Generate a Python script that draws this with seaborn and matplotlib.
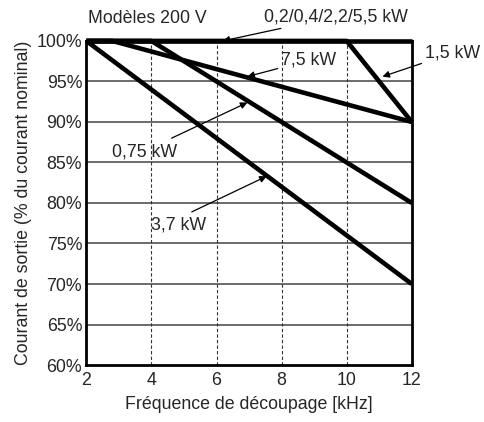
import matplotlib
matplotlib.use("Agg")
import matplotlib.pyplot as plt
import seaborn as sns
import pandas as pd
from matplotlib.ticker import MultipleLocator, FuncFormatter

# derating curves: (frequency kHz, output current %)
series_names = ["0,2/0,4/2,2/5,5 kW", "1,5 kW", "7,5 kW", "0,75 kW", "3,7 kW"]
freq_0_2 = [2, 12]
curr_0_2 = [100, 100]
freq_1_5 = [2, 10, 12]
curr_1_5 = [100, 100, 90]
freq_7_5 = [2, 2.8, 12]
curr_7_5 = [100, 100, 90]
freq_0_75 = [2, 4, 12]
curr_0_75 = [100, 100, 80]
freq_3_7 = [2, 12]
curr_3_7 = [100, 70]

x_ticks = [2, 4, 6, 8, 10, 12]
y_ticks = [60, 65, 70, 75, 80, 85, 90, 95, 100]

frames = []
for name, fx, cy in zip(series_names,
                        [freq_0_2, freq_1_5, freq_7_5, freq_0_75, freq_3_7],
                        [curr_0_2, curr_1_5, curr_7_5, curr_0_75, curr_3_7]):
    frames.append(pd.DataFrame({"freq": fx, "current": cy, "model": name}))
df = pd.concat(frames, ignore_index=True)

sns.set_style("white")
plt.rcParams["font.family"] = ["Liberation Sans", "DejaVu Sans"]
FS = 12.8

fig = plt.figure(figsize=(4.85, 4.22), dpi=100)
ax = fig.add_axes([0.178, 0.135, 0.671, 0.768])

# grid: solid horizontal, dashed vertical
for yv in y_ticks[1:-1]:
    ax.axhline(yv, color="#444444", lw=1.1, zorder=1)
for xv in x_ticks[1:-1]:
    ax.axvline(xv, color="#333333", lw=0.8, ls=(0, (3, 2)), zorder=1)

sns.lineplot(data=df, x="freq", y="current", hue="model", units="model",
             estimator=None, sort=False, palette=["black"] * len(series_names),
             lw=3.3, legend=False, ax=ax, zorder=3, clip_on=False)
for line in ax.lines:
    line.set_solid_capstyle("butt")

ax.set_xlim(2, 12)
ax.set_ylim(60, 100)
ax.set_xticks(x_ticks)
ax.xaxis.set_minor_locator(MultipleLocator(1))
ax.set_yticks(y_ticks)
ax.yaxis.set_major_formatter(FuncFormatter(lambda v, p: f"{v:.0f}%"))
ax.tick_params(axis="x", which="both", direction="in", length=7, width=1.2,
               color="black", labelsize=FS, pad=5)
ax.tick_params(axis="y", length=0, labelsize=FS, pad=3)

for s in ax.spines.values():
    s.set_color("black")
    s.set_linewidth(2)
    s.set_zorder(4)

ax.set_xlabel("Fréquence de découpage [kHz]", fontsize=FS, labelpad=5)
ax.set_ylabel("Courant de sortie (% du courant nominal)", fontsize=FS, labelpad=3)

arrow = dict(arrowstyle="-|>", color="black", lw=0.9, mutation_scale=10,
             shrinkA=0, shrinkB=0)

ax.text(2.05, 102.8, "Modèles 200 V", fontsize=FS, va="center", ha="left")
ax.annotate("0,2/0,4/2,2/5,5 kW", xy=(6.19, 100), xytext=(7.45, 103.0),
            va="center", ha="left", fontsize=FS, arrowprops=arrow,
            annotation_clip=False)
ax.annotate("7,5 kW", xy=(6.95, 95.6), xytext=(7.98, 97.6),
            va="center", ha="left", fontsize=FS, arrowprops=arrow)
ax.annotate("1,5 kW", xy=(11.1, 95.6), xytext=(12.4, 98.5),
            va="center", ha="left", fontsize=FS, arrowprops=arrow,
            annotation_clip=False)
ax.annotate("", xy=(6.95, 92.4), xytext=(4.62, 88.0), arrowprops=arrow)
ax.text(3.79, 86.3, "0,75 kW", fontsize=FS, va="center", ha="center")
ax.annotate("", xy=(7.54, 83.3), xytext=(5.24, 78.9), arrowprops=arrow)
ax.text(4.0, 77.3, "3,7 kW", fontsize=FS, va="center", ha="left")

fig.savefig("out.png", dpi=100, facecolor="white")
